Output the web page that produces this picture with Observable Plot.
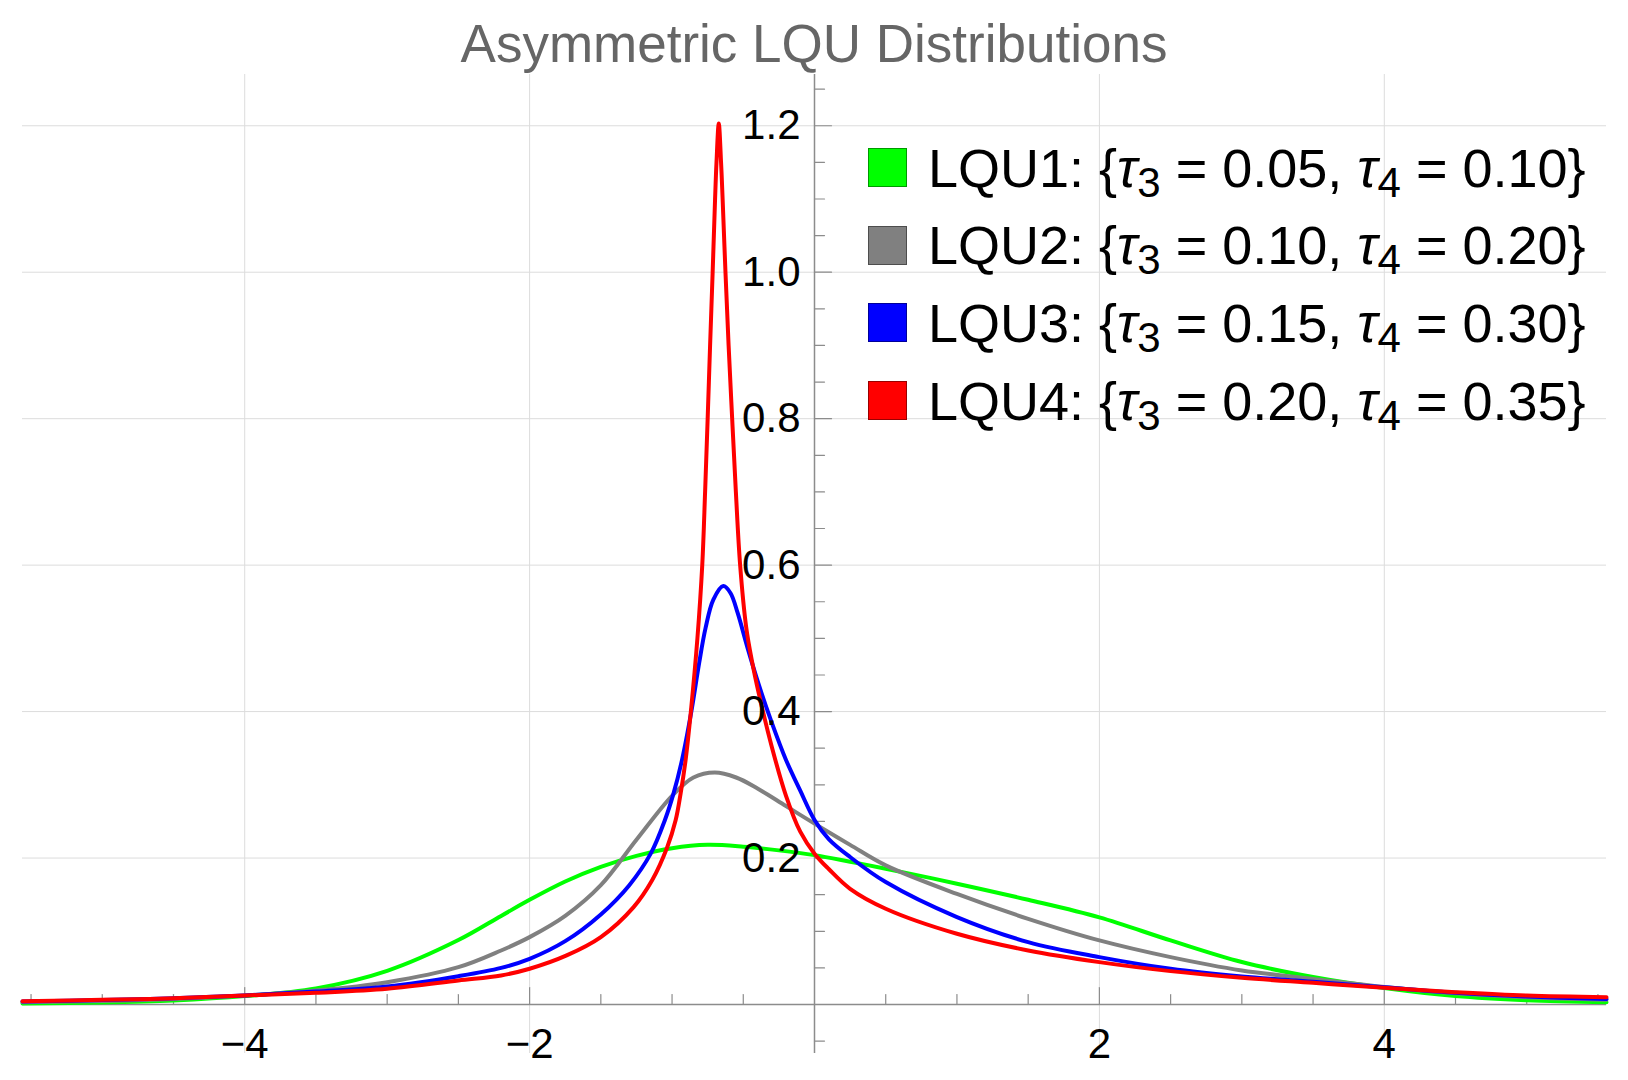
<!DOCTYPE html>
<html>
<head>
<meta charset="utf-8">
<script src="https://cdn.jsdelivr.net/npm/d3@7"></script>
<script src="https://cdn.jsdelivr.net/npm/@observablehq/plot@0.6"></script>
<style>
html, body { margin: 0; padding: 0; background: #fff; }
#wrap { position: relative; width: 1628px; height: 1080px; font-family: "Liberation Sans", Arial, Helvetica, sans-serif; }
#title { height: 70px; box-sizing: border-box; padding-top: 17px; line-height: 53px; font-size: 53px; color: #666; text-align: center; white-space: nowrap; }
#legend { position: absolute; left: 868px; top: 129px; }
.row { display: flex; align-items: center; height: 77.6px; }
.sw { width: 37px; height: 37px; border: 1px solid rgba(0,0,0,0.4); margin-right: 21px; flex: none; }
.lab { font-size: 54px; line-height: 54px; color: #000; white-space: nowrap; }
.lab i { font-style: italic; }
.lab .sb { font-size: 42px; vertical-align: -10px; line-height: 0; }
#chart svg { display: block; }
</style>
</head>
<body>
<div id="wrap">
  <div id="title"></div>
  <div id="chart"></div>
  <div id="legend"></div>
</div>
<script>
// ---- text ----
const titleText = "Asymmetric LQU Distributions";
const seriesNames = ["LQU1", "LQU2", "LQU3", "LQU4"];
const tau3Labels = ["0.05", "0.10", "0.15", "0.20"];
const tau4Labels = ["0.10", "0.20", "0.30", "0.35"];
const seriesColors = ["#00ff00", "#808080", "#0000ff", "#ff0000"];

// ---- axes ----
const xDomain = [-5.56, 5.56];
const yDomain = [-0.0669, 1.27];
const xGrid = [-4, -2, 2, 4];
const yGrid = [0.2, 0.4, 0.6, 0.8, 1.0, 1.2];
const xMajorTicks = [-4, -2, 2, 4];
const xMinorTicks = [-5.5, -5, -4.5, -3.5, -3, -2.5, -1.5, -1, -0.5, 0.5, 1, 1.5, 2.5, 3, 3.5, 4.5, 5, 5.5];
const yMajorTicks = [0.2, 0.4, 0.6, 0.8, 1.0, 1.2];
const yMinorTicks = [-0.05, 0.05, 0.1, 0.15, 0.25, 0.3, 0.35, 0.45, 0.5, 0.55, 0.65, 0.7, 0.75, 0.85, 0.9, 0.95, 1.05, 1.1, 1.15, 1.25];
const xTickLabels = ["\u22124", "\u22122", "2", "4"];
const yTickLabels = ["0.2", "0.4", "0.6", "0.8", "1.0", "1.2"];

// ---- series ----
const lqu1X = [-5.56, -5.0, -4.5, -4.0, -3.5, -3.0, -2.5, -2.2, -2.0, -1.75, -1.5, -1.25, -1.0, -0.75, -0.5, -0.25, 0, 0.25, 0.5, 1.0, 1.5, 2.0, 2.5, 3.0, 3.5, 4.0, 4.5, 5.0, 5.56];
const lqu1Y = [0.0014, 0.0027, 0.0055, 0.0115, 0.022, 0.046, 0.088, 0.121, 0.143, 0.168, 0.188, 0.203, 0.2135, 0.218, 0.2155, 0.2105, 0.204, 0.195, 0.1855, 0.165, 0.143, 0.119, 0.0875, 0.058, 0.0375, 0.0225, 0.0115, 0.0058, 0.003];

const lqu2X = [-5.56, -5.0, -4.5, -4.0, -3.5, -3.0, -2.5, -2.2, -2.0, -1.75, -1.5, -1.25, -1.0, -0.85, -0.7, -0.55, -0.4, -0.2, 0, 0.25, 0.5, 1.0, 1.5, 2.0, 2.5, 3.0, 3.5, 4.0, 4.5, 5.0, 5.56];
const lqu2Y = [0.003, 0.0048, 0.0075, 0.0123, 0.019, 0.0305, 0.051, 0.0738, 0.092, 0.121, 0.163, 0.225, 0.285, 0.31, 0.3167, 0.31, 0.295, 0.271, 0.247, 0.218, 0.19, 0.151, 0.117, 0.0875, 0.0647, 0.0465, 0.035, 0.024, 0.0155, 0.010, 0.0065];

const lqu3X = [-5.56, -5.0, -4.5, -4.0, -3.5, -3.0, -2.5, -2.2, -2.0, -1.75, -1.5, -1.3, -1.15, -1.05, -0.99, -0.93, -0.865, -0.81, -0.765, -0.71, -0.64, -0.59, -0.54, -0.47, -0.39, -0.3, -0.2, -0.1, 0, 0.1, 0.25, 0.5, 1.0, 1.5, 2.0, 2.5, 3.0, 3.5, 4.0, 4.5, 5.0, 5.56];
const lqu3Y = [0.0042, 0.006, 0.0085, 0.0123, 0.0178, 0.0246, 0.0387, 0.050, 0.0624, 0.0865, 0.123, 0.163, 0.206, 0.252, 0.288, 0.334, 0.3996, 0.466, 0.514, 0.553, 0.5714, 0.562, 0.535, 0.487, 0.436, 0.385, 0.334, 0.292, 0.252, 0.226, 0.2014, 0.1672, 0.1194, 0.0852, 0.0647, 0.0488, 0.0383, 0.031, 0.0235, 0.016, 0.011, 0.0075];

const lqu4X = [-5.56, -5.0, -4.5, -4.0, -3.5, -3.0, -2.5, -2.2, -2.0, -1.74, -1.5, -1.27, -1.139, -1.034, -0.975, -0.94, -0.905, -0.868, -0.822, -0.788, -0.768, -0.75, -0.733, -0.715, -0.698, -0.688, -0.672, -0.656, -0.645, -0.625, -0.603, -0.578, -0.552, -0.522, -0.48, -0.44, -0.391, -0.3, -0.2, -0.1, 0, 0.1, 0.25, 0.5, 1.0, 1.5, 2.0, 2.5, 3.0, 3.5, 4.0, 4.5, 5.0, 5.56];
const lqu4Y = [0.0045, 0.0064, 0.0085, 0.0123, 0.016, 0.0214, 0.0328, 0.0397, 0.0488, 0.067, 0.092, 0.133, 0.170, 0.2147, 0.2515, 0.288, 0.3336, 0.40, 0.50, 0.60, 0.70, 0.80, 0.90, 1.00, 1.10, 1.15, 1.203, 1.15, 1.10, 1.00, 0.90, 0.80, 0.70, 0.60, 0.516, 0.47, 0.4247, 0.352, 0.285, 0.236, 0.206, 0.185, 0.158, 0.1308, 0.0966, 0.0738, 0.0579, 0.0456, 0.0365, 0.0296, 0.0228, 0.0169, 0.0123, 0.010];

const seriesX = [lqu1X, lqu2X, lqu3X, lqu4X];
const seriesY = [lqu1Y, lqu2Y, lqu3Y, lqu4Y];

// ---- build ----
document.getElementById("title").textContent = titleText;

const font = "'Liberation Sans', Arial, Helvetica, sans-serif";
const tickShape = { draw(ctx, l) { ctx.moveTo(0, 0); ctx.lineTo(0, -l); } };
const axisColor = "#8c8c8c";
const gridColor = "#dcdcdc";

const lineMarks = seriesNames.map((name, k) =>
  Plot.line(seriesX[k].map((x, i) => ({x, y: seriesY[k][i]})), {
    x: "x", y: "y", stroke: seriesColors[k], strokeWidth: 4, curve: "catmull-rom",
    strokeLinejoin: "round", strokeLinecap: "round"
  })
);

const chart = Plot.plot({
  width: 1628,
  height: 1010,
  marginLeft: 22,
  marginRight: 22,
  marginTop: 4,
  marginBottom: 27,
  x: {domain: xDomain, axis: null},
  y: {domain: yDomain, axis: null},
  style: {fontFamily: font, background: "transparent", overflow: "visible"},
  marks: [
    Plot.ruleX(xGrid, {stroke: gridColor, strokeWidth: 1}),
    Plot.ruleY(yGrid, {stroke: gridColor, strokeWidth: 1}),
    Plot.ruleY([0], {stroke: axisColor, strokeWidth: 1.5}),
    Plot.ruleX([0], {stroke: axisColor, strokeWidth: 1.5}),
    Plot.vector(xMinorTicks, {x: d => d, y: () => 0, length: 10, anchor: "start", shape: tickShape, stroke: axisColor, strokeWidth: 1.2}),
    Plot.vector(xMajorTicks, {x: d => d, y: () => 0, length: 17, anchor: "start", shape: tickShape, stroke: axisColor, strokeWidth: 1.2}),
    Plot.vector(yMinorTicks, {x: () => 0, y: d => d, length: 10, rotate: 90, anchor: "start", shape: tickShape, stroke: axisColor, strokeWidth: 1.2}),
    Plot.vector(yMajorTicks, {x: () => 0, y: d => d, length: 17, rotate: 90, anchor: "start", shape: tickShape, stroke: axisColor, strokeWidth: 1.2}),
    ...lineMarks,
    Plot.text(yMajorTicks, {x: () => 0, y: d => d, text: (d, i) => yTickLabels[i], textAnchor: "end", dx: -14, fontSize: 42, fill: "#000"}),
    Plot.text(xMajorTicks, {x: d => d, y: () => 0, text: (d, i) => xTickLabels[i], dy: 40, fontSize: 42, fill: "#000"})
  ]
});
document.getElementById("chart").appendChild(chart);

// legend
const legend = document.getElementById("legend");
seriesNames.forEach((name, k) => {
  const row = document.createElement("div");
  row.className = "row";
  const sw = document.createElement("div");
  sw.className = "sw";
  sw.style.background = seriesColors[k];
  const lab = document.createElement("div");
  lab.className = "lab";
  lab.innerHTML = `${name}: {<i>\u03C4</i><span class="sb">3</span> = ${tau3Labels[k]}, <i>\u03C4</i><span class="sb">4</span> = ${tau4Labels[k]}}`;
  row.appendChild(sw);
  row.appendChild(lab);
  legend.appendChild(row);
});
</script>
</body>
</html>
